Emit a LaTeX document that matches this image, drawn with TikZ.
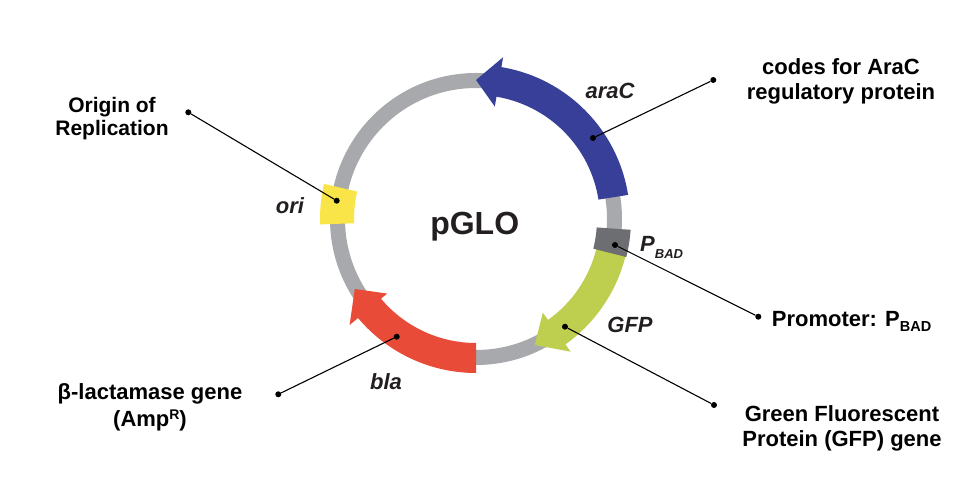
\documentclass[tikz,border=0pt]{standalone}
\usepackage{fontspec}
\setmainfont{Liberation Sans}
\definecolor{ringgrey}{HTML}{A7A9AC}
\definecolor{aracblue}{HTML}{373F98}
\definecolor{oriyellow}{HTML}{F9E547}
\definecolor{pbadgrey}{HTML}{6D6E71}
\definecolor{gfpgreen}{HTML}{BECF50}
\definecolor{blared}{HTML}{E84B37}
\definecolor{txt}{HTML}{231F20}
\begin{document}
\begin{tikzpicture}[x=1pt,y=1pt,
  lbl/.style={font=\fontsize{22}{25}\selectfont\bfseries, text=black, inner sep=0pt, align=center},
  gene/.style={font=\fontsize{22}{25}\selectfont\bfseries\itshape, text=txt, inner sep=0pt},
  dot/.style={circle, fill=black, inner sep=0pt, minimum size=6pt},
  lead/.style={draw=black, line width=1.1pt}]
\useasboundingbox (0,0) rectangle (972,478);
\fill[white] (0,0) rectangle (972,478);
\begin{scope}[shift={(476,259)}]
  \draw[ringgrey, line width=15pt] (0,0) circle[radius=138.5pt];
  % araC
  \fill[aracblue] (9:124) -- (9:154) arc[start angle=9,end angle=80.5,radius=154pt]
    -- (80.5:164) -- (90:139) -- (80.5:114) -- (80.5:124)
    arc[start angle=80.5,end angle=9,radius=124pt] -- cycle;
  % bla
  \fill[blared] (270:124) -- (270:154) arc[start angle=270,end angle=220,radius=154pt]
    -- (220:165) -- (210:140) -- (220:116) -- (220:124)
    arc[start angle=220,end angle=270,radius=124pt] -- cycle;
  % GFP
  \fill[gfpgreen] (-14:124) -- (-14:154) arc[start angle=-14,end angle=-54.5,radius=154pt]
    -- (-54.5:163) -- (-65:139) -- (-54.5:115) -- (-54.5:124)
    arc[start angle=-54.5,end angle=-14,radius=124pt] -- cycle;
  % P_BAD
  \fill[pbadgrey] (-4:121) -- (-4:155) arc[start angle=-4,end angle=-14.2,radius=155pt]
    -- (-14.2:121) arc[start angle=-14.2,end angle=-4,radius=121pt] -- cycle;
  % ori
  \fill[oriyellow] (167:122) -- (167:156) arc[start angle=167,end angle=182,radius=156pt]
    -- (182:122) arc[start angle=182,end angle=167,radius=122pt] -- cycle;
\end{scope}

% dots
\node[dot] (araCin) at (593,340) {};
\node[dot] (araCout) at (713.3,398) {};
\node[dot] (oriin) at (336.7,277.3) {};
\node[dot] (oriout) at (188.3,365.7) {};
\node[dot] (pbadin) at (615,233) {};
\node[dot] (pbadout) at (758.3,161.3) {};
\node[dot] (gfpin) at (565,151.3) {};
\node[dot] (gfpout) at (714,73) {};
\node[dot] (blain) at (396.7,141.3) {};
\node[dot] (blaout) at (278.3,83.7) {};

% connectors
\draw[lead] (araCin) -- (araCout);
\draw[lead] (oriin) -- (oriout);
\draw[lead] (pbadin) -- (pbadout);
\draw[lead] (gfpin) -- (gfpout);
\draw[lead] (blain) -- (blaout);

% outer labels
\node[lbl, font=\fontsize{21}{23}\selectfont\bfseries] (orilbl) at (112,359.6) {Origin of\\Replication};
\node[lbl] (araclbl) at (841,396.2) {codes for AraC\\regulatory protein};
\node[lbl, anchor=base west] (pbadlbl) at (771.7,151.3) {Promoter: P\raisebox{-5pt}{\fontsize{14.5}{15}\selectfont BAD}};
\node[lbl] (gfplbl) at (842,49.5) {Green Fluorescent\\Protein (GFP) gene};
\node[lbl, font=\fontsize{22}{27}\selectfont\bfseries] (blalbl) at (150,70.2) {β-lactamase gene\\(Amp\raisebox{7pt}{\fontsize{14}{14}\selectfont R})};

% ring labels
\node[gene, anchor=base] (araCtxt) at (610,379.7) {araC};
\node[gene, anchor=base] (oritxt) at (290,264.7) {ori};
\node[gene, anchor=base] (blatxt) at (386,88) {bla};
\node[gene, anchor=base] (gfptxt) at (630,145) {GFP};
\node[gene, anchor=base west] (pbadtxt) at (640,226.3) {P\raisebox{-6.5pt}{\fontsize{13}{13}\selectfont BAD}};
\node[font=\fontsize{32}{32}\selectfont\bfseries, text=txt, inner sep=0pt, anchor=base] (pglo) at (474.7,243) {pGLO};
\end{tikzpicture}
\end{document}
